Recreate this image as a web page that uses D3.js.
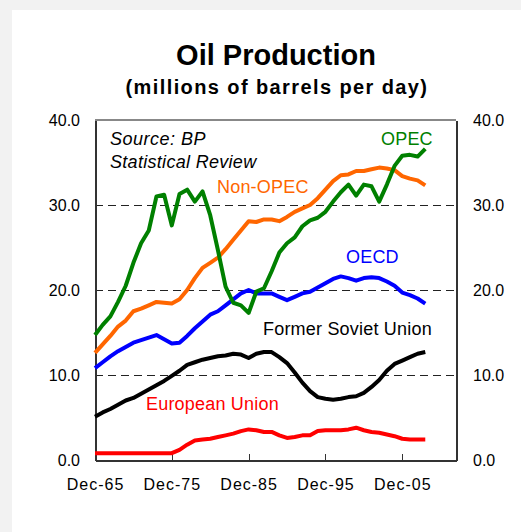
<!DOCTYPE html>
<html lang="en">
<head>
<meta charset="utf-8">
<title>Oil Production</title>
<script src="https://cdn.jsdelivr.net/npm/d3@7"></script>
<style>
  body { margin: 0; background: #f2f2f2; }
  svg { display: block; font-family: "Liberation Sans", Arial, sans-serif; }
  .axis path, .axis line { stroke: #333; shape-rendering: crispEdges; }
  .axis text { font-size: 16px; fill: #000; }
  .grid line { stroke: #222; stroke-dasharray: 8,5; shape-rendering: crispEdges; }
  .series { fill: none; stroke-width: 4; stroke-linejoin: round; }
</style>
</head>
<body>
<script>
// annual values, millions of barrels per day, 1965..2008
var years = d3.range(1965, 2009);

var opec = [14.7, 15.9, 16.9, 18.6, 20.5, 23.2, 25.5, 27.0, 31.0, 31.2,
            27.6, 31.3, 31.8, 30.4, 31.6, 28.8, 24.7, 20.4, 18.5, 18.2,
            17.3, 19.8, 20.2, 22.2, 24.4, 25.5, 26.2, 27.5, 28.2, 28.5,
            29.2, 30.4, 31.5, 32.4, 31.1, 32.4, 32.2, 30.4, 32.4, 34.6,
            35.8, 35.9, 35.7, 36.6];

var nonOpec = [12.6, 13.6, 14.6, 15.7, 16.4, 17.5, 17.8, 18.2, 18.6, 18.5,
               18.4, 18.9, 20.0, 21.4, 22.6, 23.2, 23.8, 24.8, 25.9, 27.0,
               28.1, 28.0, 28.3, 28.3, 28.1, 28.6, 29.2, 29.6, 30.0, 30.8,
               31.8, 32.8, 33.5, 33.6, 34.0, 34.0, 34.2, 34.4, 34.3, 34.1,
               33.4, 33.1, 32.9, 32.3];

var oecd = [10.8, 11.5, 12.2, 12.8, 13.3, 13.8, 14.1, 14.4, 14.7, 14.2,
            13.7, 13.8, 14.6, 15.5, 16.3, 17.1, 17.5, 18.2, 18.9, 19.6,
            20.0, 19.6, 19.6, 19.6, 19.2, 18.8, 19.2, 19.6, 19.8, 20.3,
            20.8, 21.3, 21.6, 21.4, 21.1, 21.4, 21.5, 21.4, 21.0, 20.5,
            19.7, 19.4, 19.0, 18.4];

var fsu = [5.1, 5.6, 6.0, 6.5, 7.0, 7.3, 7.8, 8.3, 8.8, 9.3,
           9.9, 10.5, 11.2, 11.5, 11.8, 12.0, 12.2, 12.3, 12.5, 12.4,
           12.0, 12.5, 12.7, 12.7, 12.1, 11.4, 10.3, 9.1, 8.1, 7.4,
           7.2, 7.1, 7.2, 7.4, 7.5, 7.9, 8.6, 9.4, 10.5, 11.3,
           11.7, 12.1, 12.5, 12.7];

var eu = [0.8, 0.8, 0.8, 0.8, 0.8, 0.8, 0.8, 0.8, 0.8, 0.8,
          0.8, 1.2, 1.8, 2.3, 2.4, 2.5, 2.7, 2.9, 3.1, 3.4,
          3.6, 3.5, 3.3, 3.3, 2.9, 2.6, 2.7, 2.9, 2.9, 3.4,
          3.5, 3.5, 3.5, 3.6, 3.8, 3.5, 3.3, 3.2, 3.0, 2.8,
          2.5, 2.4, 2.4, 2.4];

var tickYears = [1965, 1975, 1985, 1995, 2005];
var tickLabels = ["Dec-65", "Dec-75", "Dec-85", "Dec-95", "Dec-05"];
var yTicks = [0, 10, 20, 30, 40];

var series = [
  {name: "OPEC", values: opec, color: "#008000", lx: 381, ly: 145},
  {name: "Non-OPEC", values: nonOpec, color: "#ff6600", lx: 217, ly: 193},
  {name: "OECD", values: oecd, color: "#0000ff", lx: 346, ly: 263},
  {name: "Former Soviet Union", values: fsu, color: "#000000", lx: 263, ly: 335},
  {name: "European Union", values: eu, color: "#ff0000", lx: 146, ly: 410}
];

var w = 521, h = 532;
var mLeft = 95, mRight = 456, mTop = 120, mBottom = 460;

var svg = d3.select("body").append("svg")
  .attr("width", w)
  .attr("height", h);

// white panel
svg.append("rect")
  .attr("x", 12).attr("y", 10)
  .attr("width", w - 12).attr("height", h - 10)
  .attr("fill", "#fff");

var x = d3.scaleLinear().domain([1965, 2012]).range([mLeft, mRight]);
var y = d3.scaleLinear().domain([0, 40]).range([mBottom, mTop]);

// title
svg.append("text")
  .attr("x", 276).attr("y", 65)
  .attr("text-anchor", "middle")
  .style("font-size", "29px").style("font-weight", "bold")
  .text("Oil Production");
svg.append("text")
  .attr("x", 277).attr("y", 94)
  .attr("text-anchor", "middle")
  .style("font-size", "20px").style("font-weight", "bold")
  .style("letter-spacing", "1.4px")
  .text("(millions of barrels per day)");

// dashed gridlines
svg.append("g").attr("class", "grid")
  .selectAll("line")
  .data([10, 20, 30])
  .enter().append("line")
  .attr("x1", mLeft).attr("x2", mRight)
  .attr("y1", function(d) { return y(d); })
  .attr("y2", function(d) { return y(d); });

// top border
svg.append("line")
  .attr("x1", mLeft).attr("x2", mRight)
  .attr("y1", mTop).attr("y2", mTop)
  .attr("stroke", "#888").attr("stroke-width", 2)
  .style("shape-rendering", "crispEdges");

// axes
var xAxis = d3.axisBottom(x)
  .tickValues(tickYears)
  .tickSize(-6)
  .tickSizeOuter(0)
  .tickPadding(19)
  .tickFormat(function(d, i) { return tickLabels[i]; });
var gx = svg.append("g").attr("class", "axis")
  .attr("transform", "translate(0," + mBottom + ")")
  .call(xAxis);
gx.select(".domain").attr("stroke-width", 2);
gx.selectAll("text").style("letter-spacing", "1px");
gx.selectAll(".tick line").filter(function(d) { return d === 1965; }).remove();

var yAxisL = d3.axisLeft(y).tickValues(yTicks).tickSize(0).tickSizeOuter(0)
  .tickPadding(15).tickFormat(d3.format(".1f"));
var gl = svg.append("g").attr("class", "axis")
  .attr("transform", "translate(" + mLeft + ",0)")
  .call(yAxisL);
gl.select(".domain").attr("stroke-width", 2);

var yAxisR = d3.axisRight(y).tickValues(yTicks).tickSize(0).tickSizeOuter(0)
  .tickPadding(17).tickFormat(d3.format(".1f"));
var gr = svg.append("g").attr("class", "axis")
  .attr("transform", "translate(" + mRight + ",0)")
  .call(yAxisR);
gr.select(".domain").attr("stroke-width", 2);

// lines
var line = d3.line()
  .x(function(d, i) { return x(years[i]); })
  .y(function(d) { return y(d); });

svg.selectAll(".series")
  .data(series.slice().reverse())
  .enter().append("path")
  .attr("class", "series")
  .attr("stroke", function(d) { return d.color; })
  .attr("d", function(d) { return line(d.values); });

// series labels
svg.selectAll(".lbl")
  .data(series)
  .enter().append("text")
  .attr("class", "lbl")
  .attr("x", function(d) { return d.lx; })
  .attr("y", function(d) { return d.ly; })
  .attr("fill", function(d) { return d.color; })
  .style("font-size", "18px")
  .style("letter-spacing", "0.2px")
  .text(function(d) { return d.name; });

// source note
svg.append("text")
  .attr("x", 110).attr("y", 145)
  .style("font-size", "18px").style("font-style", "italic")
  .style("letter-spacing", "0.5px")
  .text("Source: BP");
svg.append("text")
  .attr("x", 110).attr("y", 168)
  .style("font-size", "18px").style("font-style", "italic")
  .style("letter-spacing", "0.3px")
  .text("Statistical Review");
</script>
</body>
</html>
